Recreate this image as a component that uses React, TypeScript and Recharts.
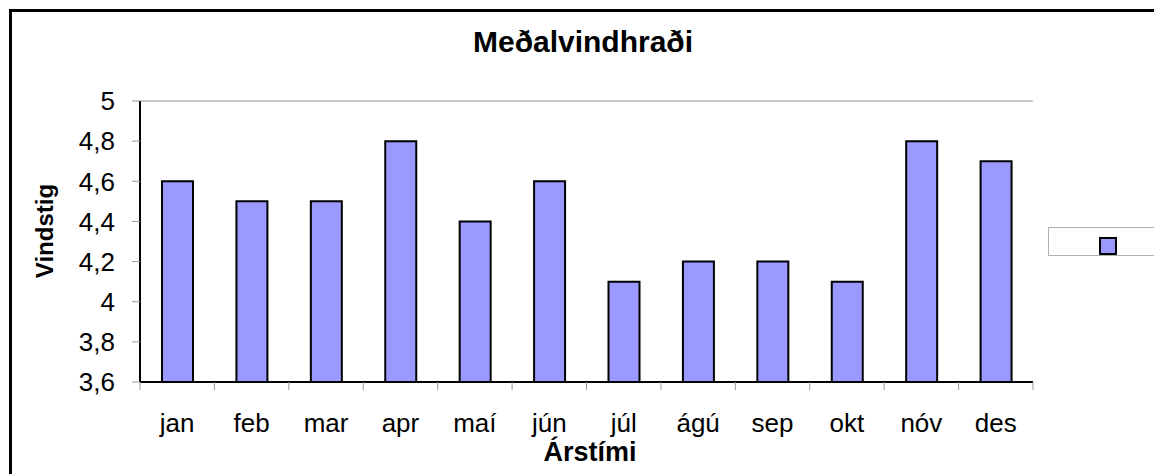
import { BarChart, Bar, XAxis, YAxis, CartesianGrid, Legend } from 'recharts';

const months = ['jan', 'feb', 'mar', 'apr', 'maí', 'jún', 'júl', 'ágú', 'sep', 'okt', 'nóv', 'des'];
const vindstig = [4.6, 4.5, 4.5, 4.8, 4.4, 4.6, 4.1, 4.2, 4.2, 4.1, 4.8, 4.7];
const yTicks = [3.6, 3.8, 4, 4.2, 4.4, 4.6, 4.8, 5];

const data = months.map((m, i) => ({ month: m, value: vindstig[i] }));

// layout of the plot area
const W = 1154;
const H = 474;
const PLOT_L = 140;
const PLOT_R = 1033;
const PLOT_T = 101;
const PLOT_B = 382;
const BAND = (PLOT_R - PLOT_L) / months.length;

const FONT = '"Liberation Sans", Arial, sans-serif';
const GRID = '#999999';

const fmt = (v: number) => String(v).replace('.', ',');

const XTick = (props: any) => {
  const { x, payload, index } = props;
  const half = BAND / 2;
  return (
    <g>
      <line x1={x - half} x2={x - half} y1={PLOT_B} y2={PLOT_B + 8} stroke={GRID} strokeWidth={1} />
      {index === months.length - 1 && (
        <line x1={x + half} x2={x + half} y1={PLOT_B} y2={PLOT_B + 8} stroke={GRID} strokeWidth={1} />
      )}
      <text x={x} y={PLOT_B + 50} textAnchor="middle" fontSize={26} fontFamily={FONT} fill="#000">
        {payload.value}
      </text>
    </g>
  );
};

const LegendBox = (props: any) => {
  const color = props.payload?.[0]?.color ?? '#9999ff';
  return (
    <div style={{ position: 'relative', width: 110, height: 29, border: '1.5px solid #b0b0b0', boxSizing: 'border-box', background: '#fff' }}>
      <div
        style={{
          position: 'absolute',
          left: 50,
          top: 9,
          width: 18,
          height: 18,
          background: color,
          border: '2px solid #000',
          boxSizing: 'border-box',
        }}
      />
    </div>
  );
};

export default function App() {
  return (
    <div style={{ position: 'fixed', left: 0, top: 0, width: W, height: H, overflow: 'hidden', background: '#fff' }}>
      <div
        style={{
          position: 'absolute',
          left: 9,
          top: 9,
          width: W + 20,
          height: H + 20,
          borderLeft: '3px solid #000',
          borderTop: '3px solid #000',
        }}
      />
      <div
        style={{
          position: 'absolute',
          left: 0,
          width: W,
          top: 25,
          textAlign: 'center',
          fontFamily: FONT,
          fontWeight: 'bold',
          fontSize: 30,
          lineHeight: '34px',
          paddingLeft: 12,
          boxSizing: 'border-box',
        }}
      >
        Meðalvindhraði
      </div>
      <div style={{ position: 'absolute', left: 0, top: 0 }}>
        <BarChart
          width={W}
          height={H}
          data={data}
          margin={{ top: PLOT_T, right: W - PLOT_R, bottom: 0, left: 0 }}
          barSize={31}
        >
          <CartesianGrid horizontal={true} vertical={false} stroke={GRID} strokeWidth={1.2} />
          <XAxis
            dataKey="month"
            height={H - PLOT_B}
            axisLine={{ stroke: '#000', strokeWidth: 2 }}
            tickLine={false}
            tick={<XTick />}
            interval={0}
            label={{
              content: () => (
                <text x={590} y={461} textAnchor="middle" fontSize={27} fontWeight="bold" fontFamily={FONT} fill="#000">
                  Árstími
                </text>
              ),
            }}
          />
          <YAxis
            yAxisId="left"
            width={PLOT_L}
            domain={[3.6, 5]}
            ticks={yTicks}
            interval={0}
            tickFormatter={fmt}
            tickSize={8}
            tickMargin={17}
            tickLine={{ stroke: GRID }}
            axisLine={{ stroke: '#000', strokeWidth: 2 }}
            tick={{ fontSize: 26, fontFamily: FONT, fill: '#000' }}
            label={{
              content: () => (
                <text
                  x={53}
                  y={231}
                  transform="rotate(-90 53 231)"
                  textAnchor="middle"
                  fontSize={24}
                  fontWeight="bold"
                  fontFamily={FONT}
                  fill="#000"
                >
                  Vindstig
                </text>
              ),
            }}
          />
          <YAxis
            yAxisId="right"
            orientation="right"
            width={0}
            domain={[3.6, 5]}
            tick={false}
            tickLine={false}
            axisLine={{ stroke: GRID, strokeWidth: 2 }}
          />
          <Legend
            layout="horizontal"
            verticalAlign="middle"
            align="center"
            content={<LegendBox />}
            wrapperStyle={{ position: 'absolute', left: 1048, top: 227, width: 110 }}
          />
          <Bar yAxisId="left" dataKey="value" name="" fill="#9999ff" stroke="#000" strokeWidth={2} isAnimationActive={false} />
        </BarChart>
      </div>
    </div>
  );
}
